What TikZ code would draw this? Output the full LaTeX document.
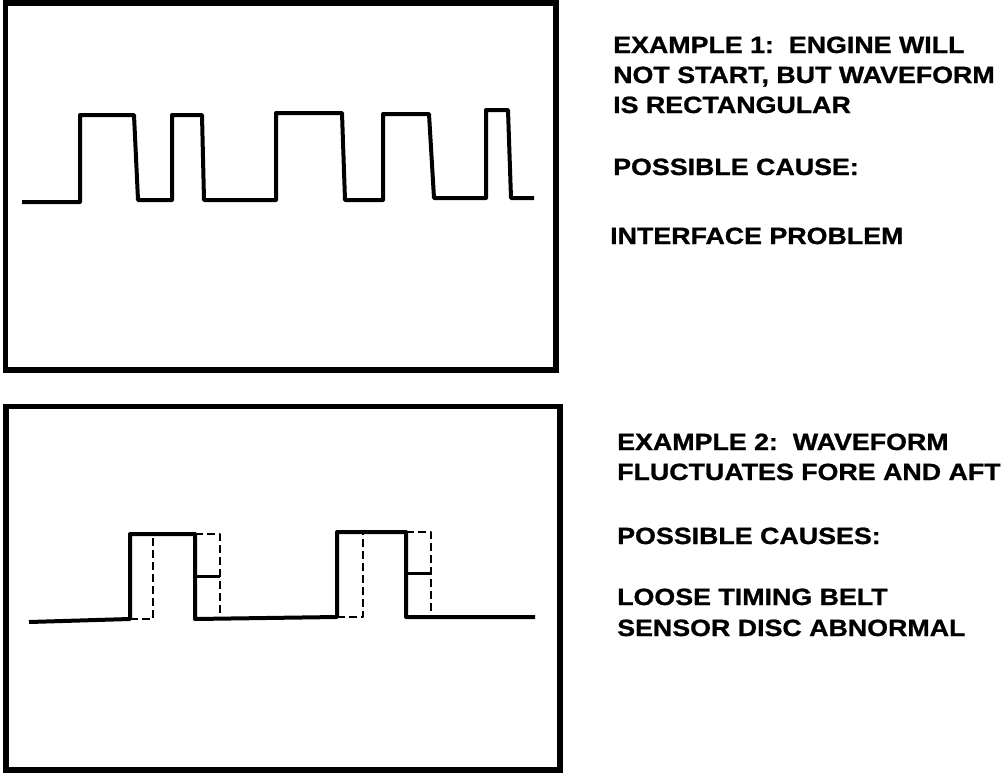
\documentclass[tikz,border=0pt]{standalone}
\usepackage{fontspec}
\usepackage{tikz}
\newfontfamily\labelfont[FakeStretch=1.14,FakeBold=1]{Liberation Sans}

\begin{document}
\begin{tikzpicture}[
    x=1pt, y=-1pt,
    frame/.style={draw, line width=5.5pt},
    wave/.style={draw, line width=4pt, line join=round},
    alt/.style={draw, line width=2.5pt, dash pattern=on 8pt off 4pt, line join=round},
    txt/.style={anchor=base west, inner sep=0pt, font={\labelfont\bfseries\fontsize{23.5}{27}\selectfont}},
]
    \useasboundingbox (0,0) rectangle (1008,776);

    % upper screen
    \draw[frame] (5.5,3) rectangle (556,370);
    \draw[wave] (22,202) -- (80,202) -- (80,115) -- (134,115) -- (138,200) -- (172,200)
        -- (172,115) -- (202,115) -- (204,200) -- (276,200) -- (276,113) -- (342,113)
        -- (345,200) -- (383,200) -- (383,114) -- (429,114) -- (434,198) -- (486,198)
        -- (486,110) -- (508,110) -- (511,198) -- (534,198);

    \node[txt] (ex1a) at (613,53) {EXAMPLE 1:\ \ ENGINE WILL};
    \node[txt] (ex1b) at (613,83) {NOT START, BUT WAVEFORM};
    \node[txt] (ex1c) at (613,113) {IS RECTANGULAR};
    \node[txt] (cause1) at (613,175) {POSSIBLE CAUSE:};
    \node[txt] (prob1) at (610,244) {INTERFACE PROBLEM};

    % lower screen
    \draw[frame] (6,406.5) rectangle (560,770);
    \draw[wave] (29,622) -- (130,619) -- (130,534) -- (195,534) -- (195,619) -- (337,617)
        -- (337,532) -- (406,532) -- (406,617) -- (535,617);
    \draw[wave, line width=3pt] (195,576) -- (220,576);
    \draw[wave, line width=3pt] (406,573) -- (431,573);
    \draw[alt] (130,619) -- (153,619) -- (153,534);
    \draw[alt] (195,534) -- (220,534) -- (220,619);
    \draw[alt] (337,617) -- (363,617) -- (363,532);
    \draw[alt] (406,532) -- (431,532) -- (431,617);

    \node[txt] (ex2a) at (617,450) {EXAMPLE 2:\ \ WAVEFORM};
    \node[txt] (ex2b) at (617,480) {FLUCTUATES FORE AND AFT};
    \node[txt] (cause2) at (617,544) {POSSIBLE CAUSES:};
    \node[txt] (prob2a) at (617,605) {LOOSE TIMING BELT};
    \node[txt] (prob2b) at (617,636) {SENSOR DISC ABNORMAL};
\end{tikzpicture}
\end{document}
